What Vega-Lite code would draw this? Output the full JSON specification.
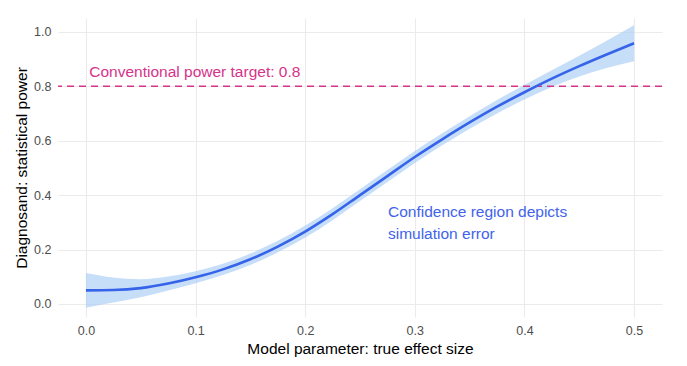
{
  "$schema": "https://vega.github.io/schema/vega-lite/v6.json",
  "width": 604,
  "height": 299,
  "autosize": {"type": "none"},
  "padding": {"left": 58, "top": 18, "right": 25, "bottom": 49},
  "background": "white",
  "config": {
    "view": {"stroke": null},
    "font": "Liberation Sans",
    "axis": {
      "domain": false,
      "ticks": false,
      "gridColor": "#ebebeb",
      "gridWidth": 1.1,
      "labelColor": "#4d4d4d",
      "labelFontSize": 12.5,
      "labelFont": "Liberation Sans",
      "titleFont": "Liberation Sans",
      "titleFontSize": 15.5,
      "titleFontWeight": "normal",
      "titleColor": "#000000"
    }
  },
  "datasets": {
    "curve": [
      {"x": 0.000, "power": 0.050, "lo": -0.014, "hi": 0.114},
      {"x": 0.025, "power": 0.051, "lo": 0.005, "hi": 0.097},
      {"x": 0.050, "power": 0.058, "lo": 0.025, "hi": 0.091},
      {"x": 0.075, "power": 0.075, "lo": 0.049, "hi": 0.101},
      {"x": 0.100, "power": 0.098, "lo": 0.076, "hi": 0.120},
      {"x": 0.125, "power": 0.127, "lo": 0.106, "hi": 0.148},
      {"x": 0.150, "power": 0.164, "lo": 0.143, "hi": 0.185},
      {"x": 0.175, "power": 0.211, "lo": 0.190, "hi": 0.232},
      {"x": 0.200, "power": 0.266, "lo": 0.244, "hi": 0.288},
      {"x": 0.225, "power": 0.330, "lo": 0.308, "hi": 0.352},
      {"x": 0.250, "power": 0.400, "lo": 0.378, "hi": 0.422},
      {"x": 0.275, "power": 0.470, "lo": 0.448, "hi": 0.492},
      {"x": 0.300, "power": 0.540, "lo": 0.518, "hi": 0.562},
      {"x": 0.325, "power": 0.605, "lo": 0.583, "hi": 0.627},
      {"x": 0.350, "power": 0.667, "lo": 0.644, "hi": 0.690},
      {"x": 0.375, "power": 0.725, "lo": 0.700, "hi": 0.750},
      {"x": 0.400, "power": 0.778, "lo": 0.751, "hi": 0.805},
      {"x": 0.425, "power": 0.828, "lo": 0.797, "hi": 0.859},
      {"x": 0.450, "power": 0.874, "lo": 0.836, "hi": 0.912},
      {"x": 0.475, "power": 0.917, "lo": 0.867, "hi": 0.967},
      {"x": 0.500, "power": 0.958, "lo": 0.892, "hi": 1.024}
    ],
    "target": [{"y": 0.8, "label": "Conventional power target: 0.8", "x": 0.003, "ly": 0.852}],
    "note": [
      {"x": 0.2755, "y": 0.338, "label": "Confidence region depicts"},
      {"x": 0.2755, "y": 0.257, "label": "simulation error"}
    ]
  },
  "layer": [
    {
      "data": {"name": "curve"},
      "mark": {"type": "area", "color": "#a9cdf5", "opacity": 0.65, "interpolate": "monotone"},
      "encoding": {
        "x": {
          "field": "x", "type": "quantitative",
          "scale": {"domain": [-0.0255, 0.5255], "nice": false, "zero": false},
          "axis": {"values": [0, 0.1, 0.2, 0.3, 0.4, 0.5], "format": ".1f", "labelPadding": 7, "titlePadding": 5},
          "title": "Model parameter: true effect size"
        },
        "y": {
          "field": "lo", "type": "quantitative",
          "scale": {"domain": [-0.048, 1.051], "nice": false, "zero": false},
          "axis": {"values": [0, 0.2, 0.4, 0.6, 0.8, 1.0], "format": ".1f", "labelPadding": 7, "titlePadding": 4},
          "title": "Diagnosand: statistical power"
        },
        "y2": {"field": "hi"}
      }
    },
    {
      "data": {"name": "target"},
      "mark": {"type": "rule", "color": "#d6338a", "strokeWidth": 1.5, "strokeDash": [7, 5]},
      "encoding": {"y": {"field": "y", "type": "quantitative"}}
    },
    {
      "data": {"name": "curve"},
      "mark": {"type": "line", "color": "#3563e9", "strokeWidth": 2.6, "interpolate": "monotone"},
      "encoding": {
        "x": {"field": "x", "type": "quantitative"},
        "y": {"field": "power", "type": "quantitative"}
      }
    },
    {
      "data": {"name": "target"},
      "mark": {"type": "text", "color": "#d6338a", "fontSize": 15.5, "align": "left", "baseline": "middle", "font": "Liberation Sans"},
      "encoding": {
        "x": {"field": "x", "type": "quantitative"},
        "y": {"field": "ly", "type": "quantitative"},
        "text": {"field": "label"}
      }
    },
    {
      "data": {"name": "note"},
      "mark": {"type": "text", "color": "#4263ea", "fontSize": 15.5, "align": "left", "baseline": "middle", "font": "Liberation Sans"},
      "encoding": {
        "x": {"field": "x", "type": "quantitative"},
        "y": {"field": "y", "type": "quantitative"},
        "text": {"field": "label"}
      }
    }
  ]
}
